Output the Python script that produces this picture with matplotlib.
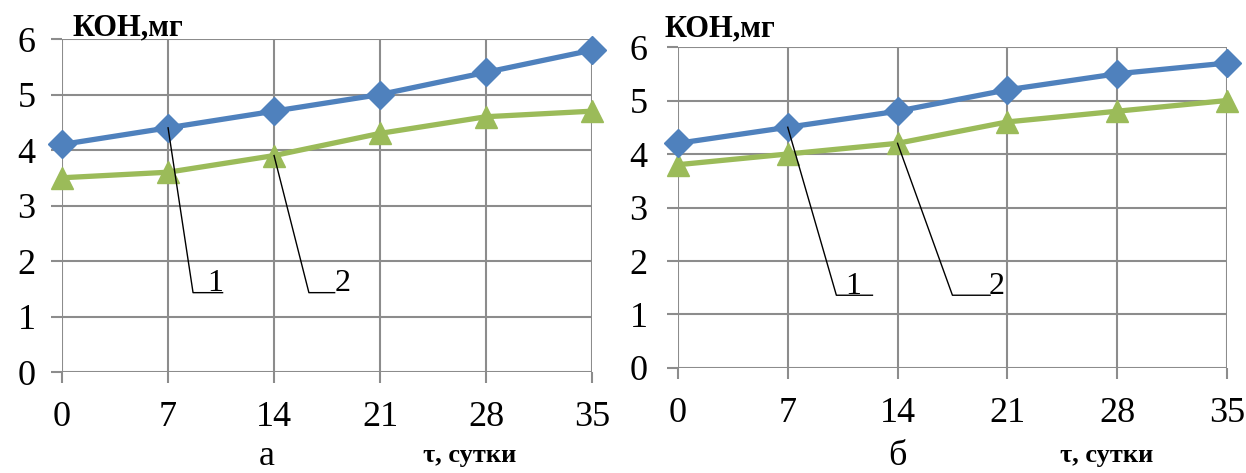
import numpy as np
import matplotlib
matplotlib.use("Agg")
import matplotlib.pyplot as plt

plt.rcParams['font.family'] = ['Liberation Serif', 'DejaVu Serif']

# Data
days = [0, 7, 14, 21, 28, 35]
a_curve1 = [4.1, 4.4, 4.7, 5.0, 5.4, 5.8]
a_curve2 = [3.5, 3.6, 3.9, 4.3, 4.6, 4.7]
b_curve1 = [4.2, 4.5, 4.8, 5.2, 5.5, 5.7]
b_curve2 = [3.8, 4.0, 4.2, 4.6, 4.8, 5.0]
y_ticks = [0, 1, 2, 3, 4, 5, 6]
curve_labels = ['1', '2']

blue = '#4F81BD'
green = '#9BBB59'
grid_c = '#8C8C8C'

fig = plt.figure(figsize=(12.46, 4.73), dpi=100)
ax_a = fig.add_axes([0.0498, 0.2135, 0.4254, 0.704])
ax_b = fig.add_axes([0.5441, 0.222, 0.4406, 0.6786])


def draw(ax, c1, c2, leaders, ypad):
    ax.plot(days, c1, color=blue, lw=3.8, marker='D', ms=14, clip_on=False, zorder=4)
    ax.plot(days, c2, color=green, lw=3.8, marker='^', ms=16, clip_on=False, zorder=3)
    # leader lines from a point on each curve to its number
    for (px, py, fx, fy, ex, tx), lab in zip(leaders, curve_labels):
        ax.plot([px, fx, ex], [py, fy, fy], color='black', lw=1, zorder=5)
        ax.text(tx, fy + 0.03, lab, fontsize=23, ha='center', va='baseline')
    ax.set_xlim(0, 35)
    ax.set_ylim(0, 6)
    ax.set_xticks(days)
    ax.set_yticks(y_ticks)
    ax.grid(True, color=grid_c, lw=1.5)
    ax.set_axisbelow(True)
    for s in ax.spines.values():
        s.set_visible(False)
    ax.tick_params(axis='both', colors=grid_c, width=1.5, length=8, labelcolor='black', labelsize=26)
    ax.tick_params(axis='x', pad=13)
    ax.tick_params(axis='y', pad=ypad)


draw(ax_a, a_curve1, a_curve2,
     [(7, 4.4, 8.65, 1.43, 10.6, 10.1), (14, 3.9, 16.3, 1.43, 18.0, 18.5)], 11)
draw(ax_b, b_curve1, b_curve2,
     [(7, 4.5, 10.1, 1.36, 12.4, 11.2), (14, 4.2, 17.5, 1.36, 19.9, 20.3)], 14)

# panel texts
for x, y in [(0.0578, 0.926), (0.5337, 0.922)]:
    fig.text(x, y, 'КОН,мг', fontsize=22, fontweight='bold', ha='left', va='baseline')
for x in [0.377, 0.888]:
    fig.text(x, 0.023, 'τ, сутки', fontsize=19, fontweight='bold', ha='center', va='baseline')
fig.text(0.2143, 0.016, 'а', fontsize=26, ha='center', va='baseline')
fig.text(0.7199, 0.016, 'б', fontsize=26, ha='center', va='baseline')

fig.savefig('out.png', dpi=100)
